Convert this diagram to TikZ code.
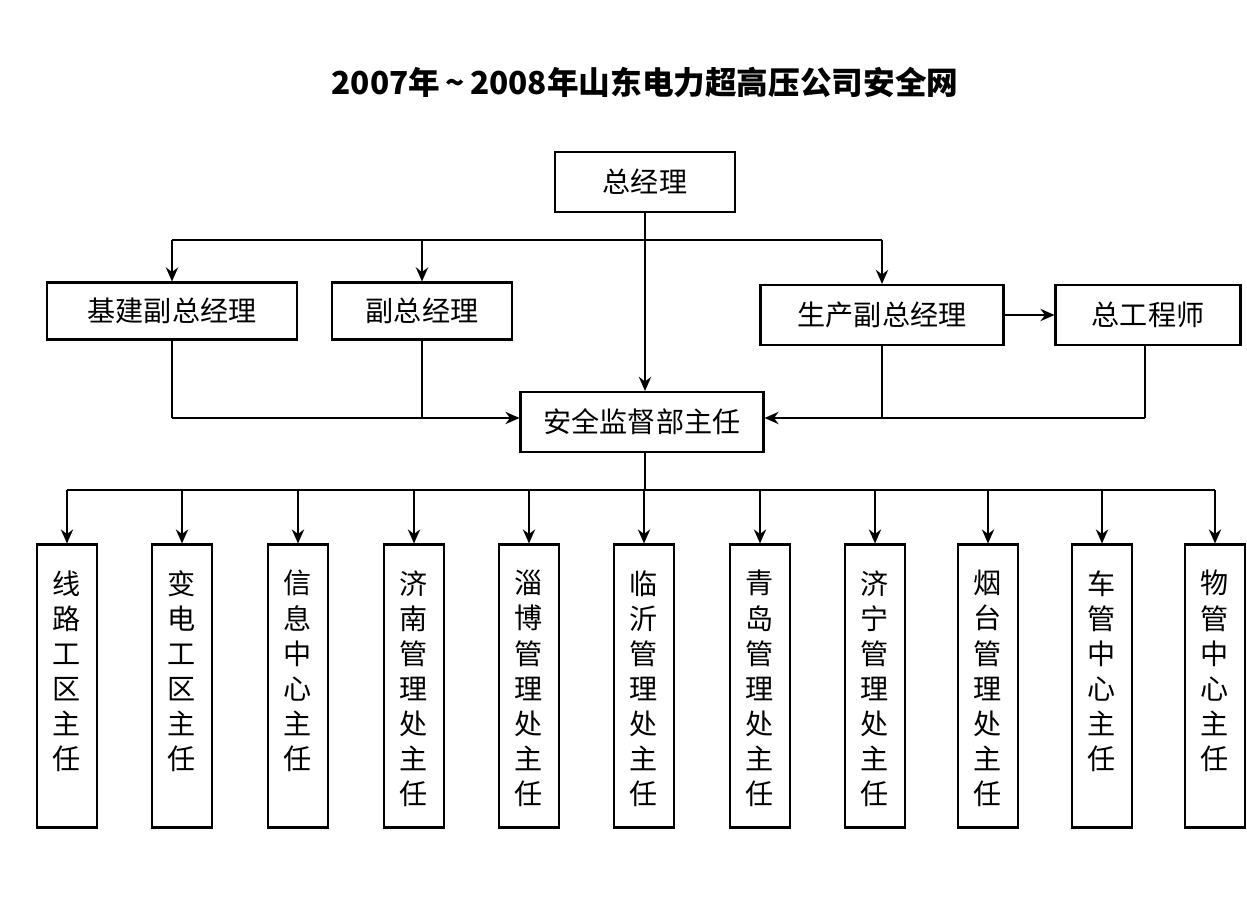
\documentclass[tikz,border=0pt]{standalone}
\usepackage{fontspec}
\setmainfont{Noto Sans CJK SC}
\usetikzlibrary{arrows.meta,positioning}
\tikzset{
  box/.style={draw,line width=1.2pt,inner sep=0pt,font=\fontsize{16}{16}\selectfont},
  col/.style={draw,line width=1.2pt,inner sep=0pt,minimum width=1.2cm,minimum height=5.66cm},
  link/.style={line width=1.1pt},
  arr/.style={link,-{Stealth[length=8pt,width=7pt]}}
}
\begin{document}
\begin{tikzpicture}[x=0.02cm,y=-0.02cm]
\useasboundingbox (0,0) rectangle (1247,911);
\node[font=\bfseries\fontsize{18}{18}\selectfont] (title) at (645,82) {2007年\,\textasciitilde\,2008年山东电力超高压公司安全网};
\node[box,minimum width=3.6cm,minimum height=1.2cm] (zjl) at (645,182) {总经理};
\node[box,minimum width=5cm,minimum height=1.14cm] (jj) at (172,311) {基建副总经理};
\node[box,minimum width=3.6cm,minimum height=1.14cm] (fz) at (422,311) {副总经理};
\node[box,minimum width=4.86cm,minimum height=1.2cm] (sc) at (882,315) {生产副总经理};
\node[box,minimum width=3.7cm,minimum height=1.2cm] (zg) at (1148,315) {总工程师};
\node[box,minimum width=4.86cm,minimum height=1.2cm] (aq) at (642,422) {安全监督部主任};
\coordinate (tl) at (172,240);
\coordinate (tm) at (422,240);
\coordinate (tr) at (882,240);
\coordinate (ll) at (172,418);
\coordinate (lm) at (422,418);
\coordinate (rm) at (882,418);
\coordinate (rr) at (1145,418);
\draw[arr] (zjl.south) -- (zjl.south |- aq.north);
\draw[link] (tl) -- (tr);
\draw[arr] (tl) -- (jj.north);
\draw[arr] (tm) -- (fz.north);
\draw[arr] (tr) -- (sc.north);
\draw[arr] (sc) -- (zg);
\draw[link] (jj.south) -- (ll);
\draw[link] (fz.south) -- (lm);
\draw[arr] (ll) -- (ll -| aq.west);
\draw[link] (zg.south -| rr) -- (rr);
\draw[link] (sc.south) -- (rm);
\draw[arr] (rr) -- (rr -| aq.east);
\coordinate (bus) at (645,490);
\draw[link] (aq.south -| bus) -- (bus);
\draw[link] (67,490) -- (1215,490);
\foreach \x/\t [count=\i] in {67/线\\路\\工\\区\\主\\任, 182/变\\电\\工\\区\\主\\任,
  298/信\\息\\中\\心\\主\\任, 414/济\\南\\管\\理\\处\\主\\任, 529/淄\\博\\管\\理\\处\\主\\任,
  644/临\\沂\\管\\理\\处\\主\\任, 760/青\\岛\\管\\理\\处\\主\\任, 875/济\\宁\\管\\理\\处\\主\\任,
  988/烟\\台\\管\\理\\处\\主\\任, 1102/车\\管\\中\\心\\主\\任, 1215/物\\管\\中\\心\\主\\任} {
  \node[col] (b\i) at (\x,686) {};
  \node[font=\fontsize{16}{20}\selectfont,align=center,anchor=north,inner sep=0pt] (t\i) at (\x,570) {\t};
  \draw[arr] (\x,490) -- (b\i.north);
}
\end{tikzpicture}
\end{document}
